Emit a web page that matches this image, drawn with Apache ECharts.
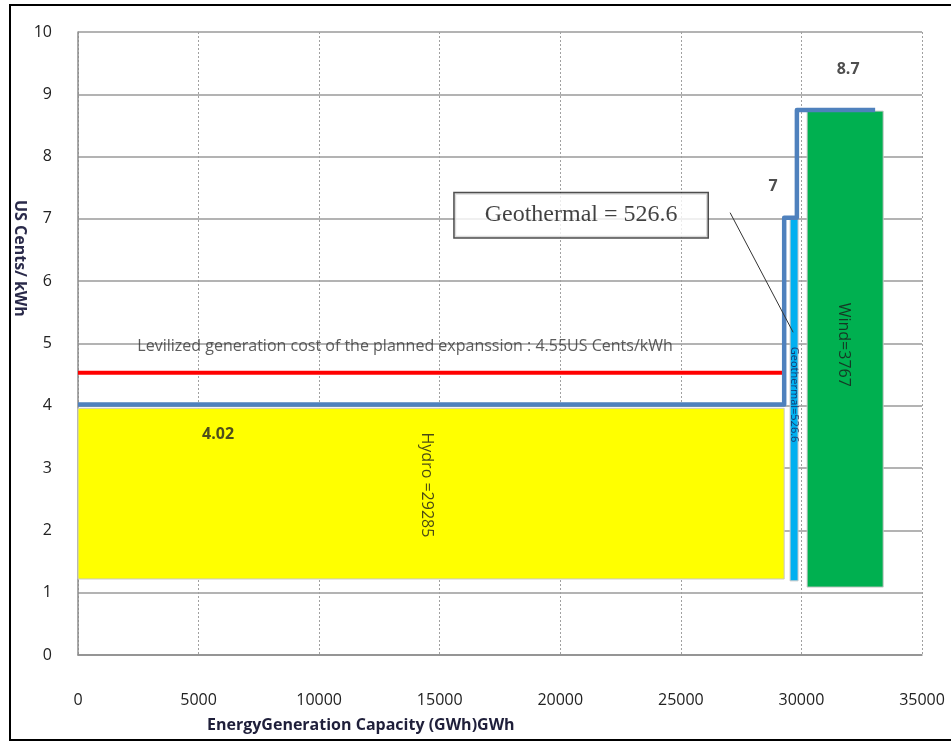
<!DOCTYPE html>
<html>
<head>
<meta charset="utf-8">
<script src="https://cdn.jsdelivr.net/npm/echarts@6/dist/echarts.min.js"></script>
<style>
  html, body { margin: 0; padding: 0; background: #fff; }
  #main { width: 951px; height: 743px; }
</style>
</head>
<body>
<div id="main"></div>
<script>
// boxes: [xStart, xEnd, yBottom, yTop]
var hydroBox = [0, 29285, 1.22, 3.96];
var geoBox = [29530, 29860, 1.19, 7.02];
var windBox = [30236, 33390, 1.09, 8.73];

// supply curve steps
var stepLine = [[0, 4.02], [29285, 4.02], [29285, 7.02], [29811.6, 7.02], [29811.6, 8.75], [33057, 8.75]];
var levelLine = [[0, 4.53], [29285, 4.53]];

// callout leader line
var leader = [[27042, 7.1], [29656, 5.18]];

// text annotations [x, y, text]
var valueLabels = [[31937, 9.4, "8.7"], [28826, 7.52, "7"], [5807, 3.54, "4.02"]];
var barLabels = [[14475, 2.73, "Hydro =29285"], [31730, 4.98, "Wind=3767"]];
var geoLabel = [[29697, 4.18, "Geothermal=526.6"]];
var levelText = [[13563, 4.95, "Levilized generation cost of the planned expanssion : 4.55US Cents/kWh"]];
var calloutText = [[20863, 7.06, "Geothermal = 526.6"]];

var xTicks = [0, 35000, 5000];
var yTicks = [0, 10, 1];

var chart = echarts.init(document.getElementById("main"));

function boxItem(color, stroke) {
  return function (params, api) {
    var p0 = api.coord([api.value(0), api.value(3)]);
    var p1 = api.coord([api.value(1), api.value(2)]);
    return {
      type: "rect",
      shape: { x: p0[0], y: p0[1], width: p1[0] - p0[0], height: p1[1] - p0[1] },
      style: { fill: color, stroke: stroke, lineWidth: 1 }
    };
  };
}

function boxSeries(box, color) {
  return {
    type: "custom",
    renderItem: boxItem(color, "#c8c8c8"),
    encode: { x: [0, 1], y: [2, 3] },
    data: [box],
    z: 2
  };
}

function textSeries(items, label) {
  return {
    type: "scatter",
    symbolSize: 0,
    silent: true,
    z: 10,
    data: items.map(function (d) { return { value: [d[0], d[1]], name: d[2] }; }),
    label: Object.assign({ show: true, position: "inside", formatter: "{b}" }, label)
  };
}

var option = {
  animation: false,
  backgroundColor: "#fff",
  grid: { left: 78, right: 29, top: 32, bottom: 88 },
  xAxis: {
    type: "value",
    min: xTicks[0],
    max: xTicks[1],
    interval: xTicks[2],
    axisLine: { show: true, lineStyle: { color: "#8c8c8c", width: 1.5 } },
    axisTick: { show: false },
    axisLabel: {
      margin: 37, fontSize: 16, color: "#222", fontFamily: "Open Sans",
      formatter: function (v) { return String(v); }
    },
    splitLine: { show: true, lineStyle: { color: "#a0a0a0", type: [2, 2], width: 1 } }
  },
  yAxis: {
    type: "value",
    min: yTicks[0],
    max: yTicks[1],
    interval: yTicks[2],
    axisLine: { show: true, lineStyle: { color: "#8c8c8c", width: 1.5 } },
    axisTick: { show: false },
    axisLabel: { margin: 26, fontSize: 16, color: "#222", fontFamily: "Open Sans" },
    splitLine: { show: true, lineStyle: { color: "#9a9a9a", width: 1.5 } }
  },
  graphic: [
    {
      type: "rect",
      shape: { x: 10, y: 5, width: 960, height: 735 },
      style: { fill: null, stroke: "#000", lineWidth: 2 },
      silent: true
    },
    {
      type: "text",
      left: 207,
      top: 717,
      style: {
        text: "EnergyGeneration Capacity (GWh)GWh",
        font: "bold 16px 'Open Sans'",
        fill: "#1f1f3a"
      }
    },
    {
      type: "text",
      x: 28,
      y: 200,
      rotation: -Math.PI / 2,
      originX: 0,
      originY: 0,
      style: {
        text: "US Cents/ kWh",
        font: "bold 16px 'Open Sans'",
        fill: "#2a2a4a"
      }
    }
  ],
  series: [
    boxSeries(hydroBox, "#ffff00"),
    boxSeries(geoBox, "#00b0f0"),
    boxSeries(windBox, "#00b050"),
    {
      type: "line",
      data: levelLine,
      symbol: "none",
      lineStyle: { color: "#ff0000", width: 4 },
      z: 4
    },
    {
      type: "line",
      data: stepLine,
      symbol: "none",
      lineStyle: { color: "#4f81bd", width: 4.5, join: "round" },
      z: 5
    },
    {
      type: "line",
      data: leader,
      symbol: "none",
      lineStyle: { color: "#333", width: 1 },
      z: 9
    },
    textSeries(valueLabels, { fontSize: 16, fontWeight: "bold", color: "#222", fontFamily: "Open Sans" }),
    textSeries(barLabels, { fontSize: 16, rotate: -90, color: "#1a1a1a", fontFamily: "Open Sans" }),
    textSeries(geoLabel, { fontSize: 11, rotate: -90, color: "#1a1a50", fontFamily: "Open Sans" }),
    textSeries(levelText, { fontSize: 16, color: "#333", fontFamily: "Open Sans" }),
    textSeries(calloutText, {
      fontSize: 24,
      color: "#111",
      fontFamily: "Liberation Serif",
      backgroundColor: "#fff",
      borderColor: "#222",
      borderWidth: 1.5,
      padding: [10, 30]
    })
  ]
};

chart.setOption(option);
</script>
</body>
</html>
